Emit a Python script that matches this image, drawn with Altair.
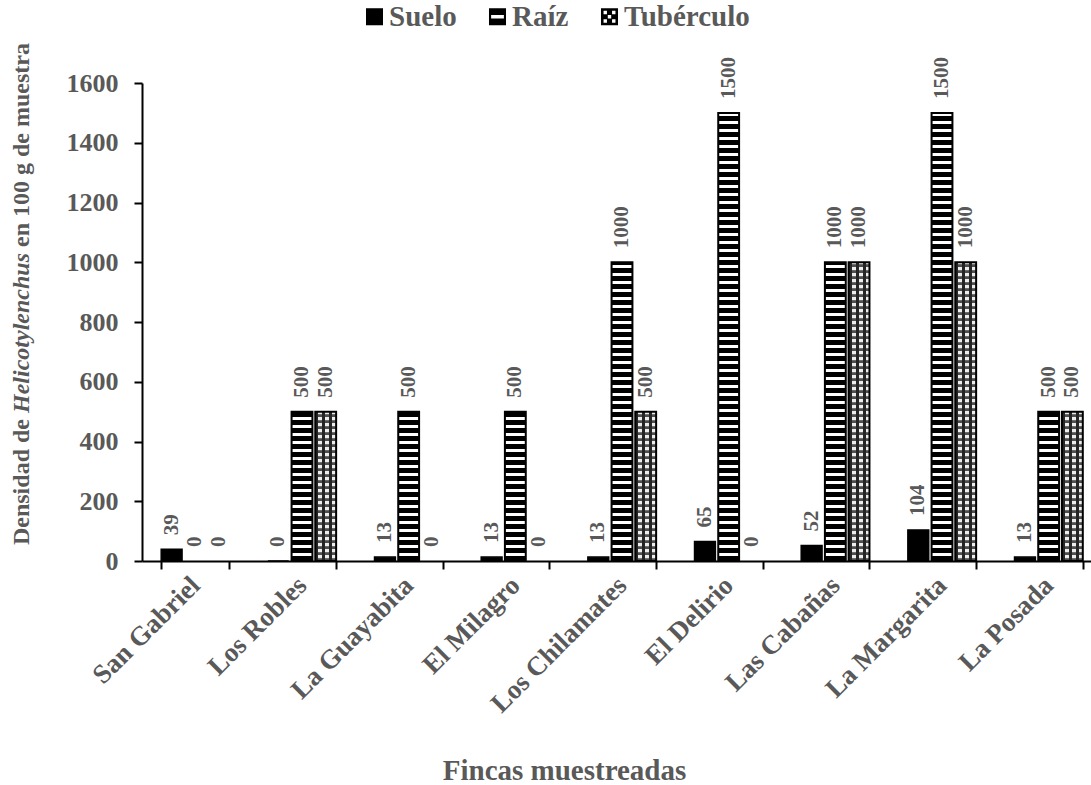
import altair as alt
import pandas as pd

fincas = ["San Gabriel", "Los Robles", "La Guayabita", "El Milagro", "Los Chilamates",
          "El Delirio", "Las Cabañas", "La Margarita", "La Posada"]
series = ["Suelo", "Raíz", "Tubérculo"]
suelo = [39, 0, 13, 13, 13, 65, 52, 104, 13]
raiz = [0, 500, 500, 500, 1000, 1500, 1000, 1500, 500]
tuberculo = [0, 500, 0, 0, 500, 0, 1000, 1000, 500]
y_ticks = [0, 200, 400, 600, 800, 1000, 1200, 1400, 1600]

W, H = 960, 478
LEFT, TOP = 142, 83
YMAX = 1600
GREY = "#595959"
FONT = "Liberation Serif"
u = YMAX / H  # data units per pixel

rows = []
for i, f in enumerate(fincas):
    for s, vals in zip(series, [suelo, raiz, tuberculo]):
        rows.append({"finca": f, "serie": s, "valor": vals[i]})
df = pd.DataFrame(rows)

# horizontal stripes for Raíz bars
stripes = []
for f, v in zip(fincas, raiz):
    y = 0.0
    while v > 0 and y < v:
        stripes.append({"finca": f, "serie": "Raíz", "y0": y, "y1": min(y + 5 * u, v)})
        y += 8 * u
stripes = pd.DataFrame(stripes)

# dotted rows for Tubérculo bars
trows = []
for f, v in zip(fincas, tuberculo):
    y = 0.0
    while v > 0 and y < v:
        trows.append({"finca": f, "serie": "Tubérculo", "y0": y, "y1": min(y + 2.8 * u, v)})
        y += 6 * u
trows = pd.DataFrame(trows)

xaxis = alt.Axis(title="Fincas muestreadas", titleFont=FONT, titleFontSize=29,
                 titleFontWeight="bold", titleColor=GREY, titleX=422, titleY=218,
                 titleAlign="center", titleBaseline="alphabetic", titleAngle=0,
                 labelAngle=-45, labelAlign="right", labelBaseline="middle",
                 labelFont=FONT, labelFontSize=27, labelFontWeight="bold", labelColor=GREY,
                 labelPadding=12, tickSize=8, tickBand="extent", tickColor="black",
                 tickWidth=2, domainColor="black", domainWidth=2, grid=False)
yaxis = alt.Axis(title=None, values=y_ticks, format="d", labelFont=FONT, labelFontSize=26,
                 labelFontWeight="bold", labelColor=GREY, labelPadding=16, tickSize=8,
                 tickColor="black", tickWidth=2, domainColor="black", domainWidth=2,
                 grid=False)

X = alt.X("finca:N", scale=alt.Scale(domain=fincas, paddingInner=0.36, paddingOuter=0.18),
          axis=xaxis, sort=fincas)
XO = alt.XOffset("serie:N", scale=alt.Scale(domain=series, paddingInner=0.12, paddingOuter=0))
YS = alt.Scale(domain=[0, YMAX], nice=False, zero=True)


def ybar(field):
    return alt.Y(field, scale=YS, axis=yaxis)


base = alt.Chart(df)

suelo_bars = base.transform_filter(alt.datum.serie == "Suelo").mark_bar(
    fill="black", stroke="black", strokeWidth=1.5
).encode(x=X, xOffset=XO, y=ybar("valor:Q"))

raiz_base = base.transform_filter((alt.datum.serie == "Raíz") & (alt.datum.valor > 0)).mark_bar(
    fill="white"
).encode(x=X, xOffset=XO, y=ybar("valor:Q"))

raiz_stripes = alt.Chart(stripes).mark_bar(fill="black").encode(
    x=X, xOffset=XO, y=ybar("y0:Q"), y2="y1:Q")

raiz_outline = base.transform_filter((alt.datum.serie == "Raíz") & (alt.datum.valor > 0)).mark_bar(
    fillOpacity=0, stroke="black", strokeWidth=2
).encode(x=X, xOffset=XO, y=ybar("valor:Q"))

stops = []
n = 3
for j in range(n):
    a = j / n
    b = a + 0.45 / n
    c = (j + 1) / n
    stops += [alt.GradientStop(offset=a, color="#262626"), alt.GradientStop(offset=b, color="#262626"),
              alt.GradientStop(offset=b, color="#ededed"), alt.GradientStop(offset=c, color="#ededed")]
tub_grad = alt.LinearGradient(gradient="linear", x1=0, x2=1, y1=0, y2=0, stops=stops)

tub_base = base.transform_filter((alt.datum.serie == "Tubérculo") & (alt.datum.valor > 0)).mark_bar(
    fill=tub_grad
).encode(x=X, xOffset=XO, y=ybar("valor:Q"))

tub_rows = alt.Chart(trows).mark_bar(fill="#262626", opacity=0.8).encode(
    x=X, xOffset=XO, y=ybar("y0:Q"), y2="y1:Q")

tub_outline = base.transform_filter((alt.datum.serie == "Tubérculo") & (alt.datum.valor > 0)).mark_bar(
    fillOpacity=0, stroke="black", strokeWidth=2
).encode(x=X, xOffset=XO, y=ybar("valor:Q"))

labels = base.mark_text(angle=270, align="left", baseline="middle", dx=14, font=FONT,
                        fontSize=21, fontWeight="bold", color=GREY).encode(
    x=X, xOffset=XO, y=ybar("valor:Q"), text=alt.Text("valor:Q", format="d"))

raiz_path = "M-1,-1H1V1H-1Z M-0.75,-0.22V0.22H0.75V-0.22Z"
tub_path = ("M-1,-1H1V1H-1Z M-0.7,-0.7V-0.3H-0.3V-0.7Z M0.3,-0.7V-0.3H0.7V-0.7Z "
            "M-0.7,0.3V0.7H-0.3V0.3Z M0.3,0.3V0.7H0.7V0.3Z M-0.2,-0.2V0.2H0.2V-0.2Z")
legend_layer = base.transform_filter("false").mark_point(filled=True, color="black", opacity=1).encode(
    x=X,
    y=ybar("valor:Q"),
    shape=alt.Shape("serie:N", scale=alt.Scale(domain=series, range=["square", raiz_path, tub_path]),
                    legend=alt.Legend(orient="none", legendX=218, legendY=-81, direction="horizontal",
                                      title=None, labelFont=FONT, labelFontSize=29,
                                      labelFontWeight="bold", labelColor=GREY, symbolSize=290,
                                      symbolStrokeWidth=0, symbolFillColor="black",
                                      columnPadding=26, labelOffset=0,
                                      symbolOpacity=1)))

one = alt.Data(values=[{"k": 1}])
title_common = dict(angle=270, baseline="middle", font=FONT, fontSize=24, fontWeight="bold", color=GREY)
t1 = alt.Chart(one).mark_text(align="right", text="Densidad de", **title_common).encode(
    x=alt.value(-120), y=alt.value(336))
t2 = alt.Chart(one).mark_text(align="center", text="Helicotylenchus", fontStyle="italic",
                              **title_common).encode(x=alt.value(-120), y=alt.value(250))
t3 = alt.Chart(one).mark_text(align="left", text="en 100 g de muestra", **title_common).encode(
    x=alt.value(-120), y=alt.value(164))

chart = alt.layer(
    suelo_bars, raiz_base, raiz_stripes, raiz_outline, tub_base, tub_rows, tub_outline,
    labels, legend_layer, t1, t2, t3
).properties(
    width=W, height=H,
    autosize=alt.AutoSizeParams(type="none"),
    padding={"left": LEFT, "top": TOP, "right": 1091 - LEFT - W, "bottom": 785 - TOP - H}
).configure_view(stroke=None).resolve_scale(x="shared", y="shared")

chart.save("out.html", embed_options={"renderer": "svg", "actions": False})
